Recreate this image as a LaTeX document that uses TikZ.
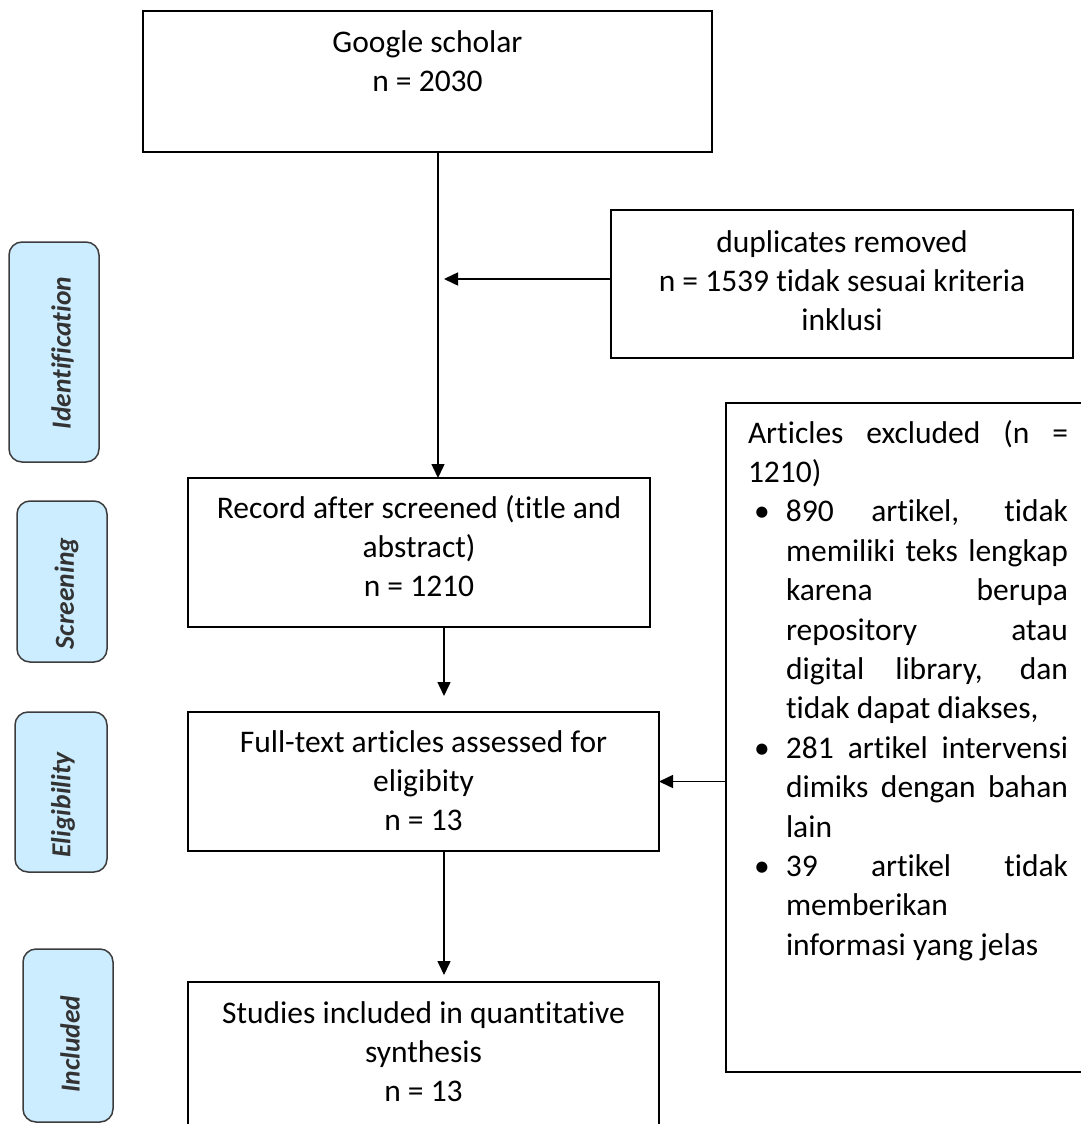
\documentclass[tikz,border=0pt]{standalone}
\usepackage{fontspec}
\setmainfont{Carlito}[Ligatures=NoCommon]
\usetikzlibrary{arrows.meta}
\definecolor{sidefill}{RGB}{204,236,255}
\definecolor{sidedraw}{RGB}{60,60,60}
\newcommand{\prismafont}{\fontsize{31.5}{39.4}\selectfont}
\newcommand{\sidelabelfont}{\fontsize{27.5}{31}\selectfont\bfseries\itshape}
\newcommand{\artbul}{\makebox[38pt][l]{\hspace*{6pt}\textbullet}}
\newcommand{\artind}{\hspace*{38pt}}
\begin{document}
\begin{tikzpicture}[x=1pt,y=-1pt,
  box/.style={draw=black, line width=1.6pt, inner sep=0pt, outer sep=0pt},
  sidebox/.style={draw=sidedraw, fill=sidefill, line width=1.5pt, rounded corners=13pt, inner sep=0pt, outer sep=0pt},
  sidetxt/.style={rotate=90, font=\sidelabelfont, text=black!80, inner sep=0pt},
  txt/.style={inner sep=0pt, outer sep=0pt, align=center, anchor=north, font=\prismafont},
  conn/.style={line width=1.5pt, -{Triangle[length=14pt,width=13pt]}},
]
\useasboundingbox (0,0) rectangle (1081,1124);

% side boxes
\node[sidebox, minimum width=90pt, minimum height=220pt] (ident) at (54,352) {};
\node[sidebox, minimum width=90pt, minimum height=161pt] (screen) at (62,581.5) {};
\node[sidebox, minimum width=92pt, minimum height=160pt] (elig) at (61,792) {};
\node[sidebox, minimum width=90pt, minimum height=173pt] (incl) at (68,1035.5) {};
\node[sidetxt] (identT) at (62.5,353) {Identification};
\node[sidetxt] (screenT) at (66.5,593.5) {Screening};
\node[sidetxt] (eligT) at (63,805) {Eligibility};
\node[sidetxt] (inclT) at (70,1044) {Included};

% main boxes
\node[box, minimum width=569pt, minimum height=141pt] (google) at (427.5,81.5) {};
\node[box, minimum width=462pt, minimum height=148pt] (dup) at (842,284) {};
\node[box, minimum width=462pt, minimum height=149pt] (scr) at (419,552.5) {};
\node[box, minimum width=471pt, minimum height=139pt] (full) at (423.5,781.5) {};
\node[inner sep=0pt, outer sep=0pt, minimum width=471pt, minimum height=142pt] (stud) at (423.5,1053) {};
\draw[line width=1.6pt] (stud.south west) -- (stud.north west) -- (stud.north east) -- (stud.south east);
\node[inner sep=0pt, outer sep=0pt, minimum width=355pt, minimum height=669pt] (artbox) at (903.5,737.5) {};
\draw[line width=1.6pt] (artbox.north east) -- (artbox.north west) -- (artbox.south west) -- (artbox.south east);

% texts
\node[txt] (googleT) at (427.5,24.42) {\strut Google scholar\\ n = 2030};
\node[txt] (dupT) at (842,224.42) {\strut duplicates removed\\ n = 1539 tidak sesuai kriteria\\ inklusi};
\node[txt] (scrT) at (419,490.42) {\strut Record after screened (title and\\ abstract)\\ n = 1210};
\node[txt] (fullT) at (423.5,724.42) {\strut Full-text articles assessed for\\ eligibity\\ n = 13};
\node[txt] (studT) at (423.5,995.42) {\strut Studies included in quantitative\\ synthesis\\ n = 13};
\node[inner sep=0pt, outer sep=0pt, anchor=north west, align=left, font=\prismafont] (artT) at (748,415.42) {%
\makebox[320pt][s]{\strut Articles excluded (n =}\\
1210)\\
\artbul\makebox[282pt][s]{890 artikel, tidak}\\
\artind\makebox[282pt][s]{memiliki teks lengkap}\\
\artind\makebox[282pt][s]{karena berupa}\\
\artind\makebox[282pt][s]{repository atau}\\
\artind\makebox[282pt][s]{digital library, dan}\\
\artind tidak dapat diakses,\\
\artbul\makebox[282pt][s]{281 artikel intervensi}\\
\artind\makebox[282pt][s]{dimiks dengan bahan}\\
\artind lain\\
\artbul\makebox[282pt][s]{39 artikel tidak}\\
\artind memberikan\\
\artind informasi yang jelas};

% connectors
\coordinate (c1) at (438,0);
\coordinate (c2) at (444,0);
\coordinate (d1) at ([yshift=5pt]dup.west);
\draw[conn] (google.south -| c1) -- (scr.north -| c1);
\draw[conn, shorten >=6pt] (d1) -- (d1 -| c1);
\draw[conn, shorten >=16pt] (scr.south -| c2) -- (full.north -| c2);
\draw[conn, shorten >=7pt] (full.south -| c2) -- (stud.north -| c2);
\draw[conn] (artbox.west |- full.east) -- (full.east);
\end{tikzpicture}
\end{document}
